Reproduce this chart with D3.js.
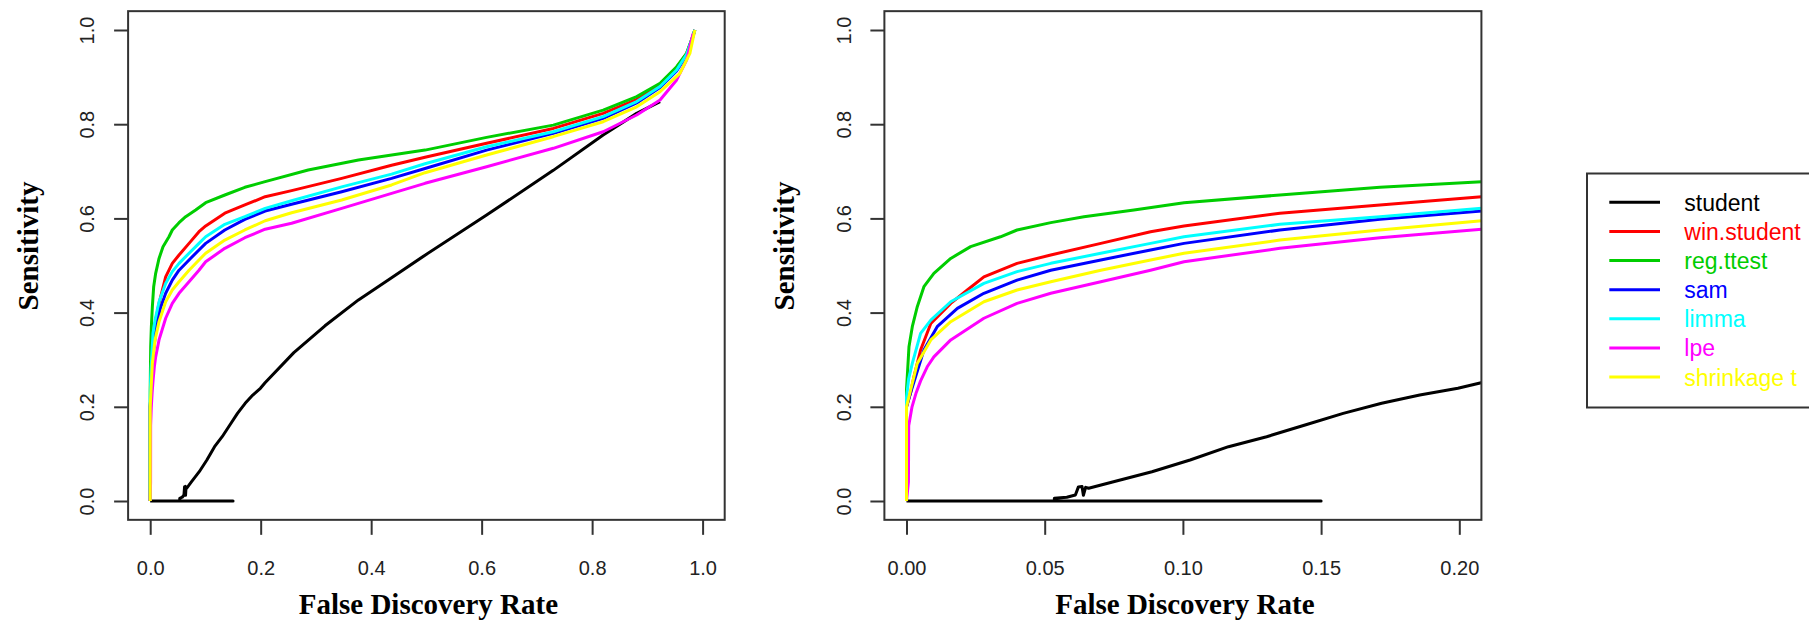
<!DOCTYPE html>
<html>
<head>
<meta charset="utf-8">
<script src="https://cdn.jsdelivr.net/npm/d3@7"></script>
<style>
  html, body { margin: 0; padding: 0; background: #fff; }
  svg { display: block; }
</style>
</head>
<body>
<script>
// ---------------- data ----------------
const methods = ["student", "win.student", "reg.ttest", "sam", "limma", "lpe", "shrinkage t"];
const methodColors = ["#000000", "#ff0000", "#00cd00", "#0000ff", "#00ffff", "#ff00ff", "#ffff00"];

const fdrTicksLeft = [0, 0.2, 0.4, 0.6, 0.8, 1.0];
const fdrTickLabelsLeft = ["0.0", "0.2", "0.4", "0.6", "0.8", "1.0"];
const fdrTicksRight = [0, 0.05, 0.10, 0.15, 0.20];
const fdrTickLabelsRight = ["0.00", "0.05", "0.10", "0.15", "0.20"];
const sensTicks = [0, 0.2, 0.4, 0.6, 0.8, 1.0];
const sensTickLabels = ["0.0", "0.2", "0.4", "0.6", "0.8", "1.0"];

// [FDR, sensitivity]
const student = [[0,0],[0.15,0],[0.0535,0],[0.0535,0.0057],[0.058,0.008],[0.0611,0.0127],[0.0622,0.03],[0.0635,0.031],
  [0.064,0.012],[0.0648,0.029],[0.0659,0.027],
  [0.0749,0.041],[0.0888,0.0622],[0.1026,0.087],[0.1165,0.1153],[0.1303,0.1365],[0.1442,0.1614],[0.158,0.186],
  [0.1719,0.2074],[0.1857,0.225],[0.1995,0.2393],[0.2079,0.251],[0.26,0.315],[0.3164,0.372],[0.377,0.427],
  [0.437,0.474],[0.4975,0.522],[0.609,0.607],[0.7297,0.702],[0.82,0.777],[0.8807,0.823],[0.923,0.848]];
const winStudent = [[0,0],[0,0.2],[0.0015,0.23],[0.0027,0.264],[0.0051,0.3206],[0.0088,0.377],[0.016,0.4197],
  [0.022,0.448],[0.028,0.476],[0.040,0.5046],[0.0522,0.5223],[0.0703,0.547],[0.0883,0.5718],[0.1004,0.584],
  [0.1351,0.611],[0.1713,0.6285],[0.2081,0.646],[0.256,0.659],[0.3467,0.685],[0.437,0.713],[0.4975,0.73],
  [0.609,0.7594],[0.7297,0.791],[0.82,0.823],[0.88,0.852],[0.923,0.884],[0.953,0.92],[0.971,0.95],[0.98,0.979],[0.986,1.0]];
const regTtest = [[0,0],[0,0.2357],[0.0009,0.3276],[0.0021,0.370],[0.0039,0.4125],[0.0063,0.455],[0.0099,0.4834],
  [0.016,0.515],[0.0232,0.540],[0.034,0.561],[0.040,0.5754],[0.0522,0.591],[0.0642,0.6036],[0.0823,0.6178],
  [0.1004,0.6334],[0.1351,0.6497],[0.1713,0.666],[0.2081,0.678],[0.286,0.7028],[0.377,0.724],[0.4975,0.745],
  [0.609,0.772],[0.7297,0.798],[0.82,0.83],[0.8807,0.8585],[0.923,0.887],[0.953,0.922],[0.971,0.9505],[0.98,0.979],[0.986,1.0]];
const sam = [[0,0],[0,0.2],[0.0015,0.23],[0.0033,0.264],[0.0063,0.3206],[0.0111,0.370],[0.0184,0.409],[0.028,0.441],
  [0.040,0.469],[0.0522,0.490],[0.0703,0.5117],[0.0883,0.533],[0.1004,0.547],[0.1351,0.5754],[0.1713,0.598],
  [0.2081,0.6157],[0.256,0.630],[0.3467,0.6567],[0.437,0.685],[0.4975,0.706],[0.609,0.745],[0.7297,0.7806],
  [0.82,0.8125],[0.8807,0.845],[0.923,0.878],[0.953,0.913],[0.971,0.946],[0.98,0.976],[0.986,1.0]];
const limma = [[0,0],[0,0.22],[0.0008,0.26],[0.0021,0.292],[0.0051,0.356],[0.0088,0.384],[0.016,0.423],[0.028,0.462],
  [0.040,0.487],[0.0522,0.5046],[0.0703,0.526],[0.0883,0.547],[0.1004,0.561],[0.1351,0.5874],[0.1713,0.6036],
  [0.2081,0.6214],[0.256,0.6375],[0.3467,0.667],[0.437,0.694],[0.4975,0.716],[0.609,0.752],[0.7297,0.784],
  [0.82,0.816],[0.8807,0.848],[0.923,0.88],[0.953,0.915],[0.971,0.948],[0.98,0.978],[0.986,1.0]];
const lpe = [[0,0],[0.0007,0.04],[0.0008,0.16],[0.002,0.2],[0.0035,0.23],[0.0051,0.255],[0.0075,0.285],[0.0099,0.306],
  [0.016,0.342],[0.028,0.388],[0.040,0.4197],[0.0522,0.441],[0.0703,0.4656],[0.0883,0.490],[0.1004,0.508],
  [0.1351,0.5365],[0.1713,0.559],[0.2081,0.577],[0.256,0.5896],[0.3467,0.6214],[0.437,0.653],[0.4975,0.6745],
  [0.609,0.7098],[0.7297,0.7488],[0.82,0.784],[0.8807,0.8195],[0.923,0.8514],[0.953,0.894],[0.971,0.936],[0.98,0.979],[0.983,0.993]];
const shrinkageT = [[0,0],[0,0.2],[0.0015,0.2357],[0.0039,0.292],[0.0088,0.342],[0.016,0.3807],[0.028,0.423],
  [0.040,0.448],[0.0522,0.4656],[0.0703,0.490],[0.0883,0.5117],[0.1004,0.526],[0.1351,0.554],[0.1713,0.5754],
  [0.2081,0.595],[0.256,0.612],[0.3467,0.639],[0.437,0.671],[0.4975,0.697],[0.609,0.7346],[0.7297,0.7735],
  [0.82,0.8053],[0.8807,0.837],[0.923,0.869],[0.959,0.908],[0.977,0.9505],[0.986,1.0]];

const seriesData = [student, winStudent, regTtest, sam, limma, lpe, shrinkageT];

// ---------------- drawing ----------------
const W = 1809, H = 622;
const svg = d3.select("body").append("svg").attr("width", W).attr("height", H);
svg.append("rect").attr("width", W).attr("height", H).attr("fill", "#fff");

const y = d3.scaleLinear().domain([0, 1]).range([501, 30]);

const panels = [
  { id: "L", x: d3.scaleLinear().domain([0, 1]).range([150.2, 702.6]), ticks: fdrTicksLeft, labels: fdrTickLabelsLeft, pad: 0.04 },
  { id: "R", x: d3.scaleLinear().domain([0, 0.2]).range([906.5, 1459.3]), ticks: fdrTicksRight, labels: fdrTickLabelsRight, pad: 0.008 }
];

const sansFont = "'Liberation Sans', Arial, Helvetica, sans-serif";
const serifFont = "'Liberation Serif', 'Times New Roman', serif";

panels.forEach(p => {
  const x = p.x;
  const d0 = x.domain();
  const x0 = x(d0[0] - p.pad), x1 = x(d0[1] + p.pad);
  const yTop = y(1.04), yBot = y(-0.04);

  const clipId = "clip" + p.id;
  svg.append("clipPath").attr("id", clipId)
    .append("rect").attr("x", x0).attr("y", yTop).attr("width", x1 - x0).attr("height", yBot - yTop);

  const line = d3.line().x(d => x(d[0])).y(d => y(d[1]));
  const g = svg.append("g").attr("clip-path", `url(#${clipId})`);
  seriesData.forEach((data, i) => {
    g.append("path")
      .datum(data)
      .attr("d", line)
      .attr("fill", "none")
      .attr("stroke", methodColors[i])
      .attr("stroke-width", 3)
      .attr("stroke-linejoin", "round");
  });

  // box
  svg.append("rect")
    .attr("x", x0).attr("y", yTop).attr("width", x1 - x0).attr("height", yBot - yTop)
    .attr("fill", "none").attr("stroke", "#333").attr("stroke-width", 2);

  // x axis
  const xa = svg.append("g").attr("transform", `translate(0,${yBot})`)
    .call(d3.axisBottom(x).tickValues(p.ticks).tickFormat((d, i) => p.labels[i]).tickSize(15));
  xa.select(".domain").remove();
  xa.selectAll(".tick line").attr("stroke", "#333").attr("stroke-width", 2);
  xa.selectAll(".tick text")
    .attr("y", 575 - yBot).attr("dy", 0)
    .attr("fill", "#222")
    .style("font-family", sansFont).style("font-size", "20px");

  // y axis
  const ya = svg.append("g").attr("transform", `translate(${x0},0)`)
    .call(d3.axisLeft(y).tickValues(sensTicks).tickFormat((d, i) => sensTickLabels[i]).tickSize(14));
  ya.select(".domain").remove();
  ya.selectAll(".tick line").attr("stroke", "#333").attr("stroke-width", 2);
  ya.selectAll(".tick text")
    .attr("x", 0).attr("y", 0).attr("dy", 0)
    .attr("transform", `translate(${-(x0 - (p.id === "L" ? 94 : 851))},0) rotate(-90)`)
    .attr("text-anchor", "middle")
    .attr("fill", "#222")
    .style("font-family", sansFont).style("font-size", "20px");

  // axis titles
  svg.append("text")
    .attr("x", (x0 + x1) / 2 + 2).attr("y", 614)
    .attr("text-anchor", "middle")
    .style("font-family", serifFont).style("font-weight", "bold").style("font-size", "29px")
    .attr("fill", "#000")
    .text("False Discovery Rate");
  svg.append("text")
    .attr("transform", `translate(${x0 - 90.5},246) rotate(-90)`)
    .attr("text-anchor", "middle")
    .style("font-family", serifFont).style("font-weight", "bold").style("font-size", "29px")
    .attr("fill", "#000")
    .text("Sensitivity");
});

// legend
const leg = svg.append("g");
leg.append("rect")
  .attr("x", 1587).attr("y", 173.5).attr("width", 260).attr("height", 234)
  .attr("fill", "#fff").attr("stroke", "#333").attr("stroke-width", 2);
const rowY = d3.scaleLinear().domain([0, methods.length - 1]).range([202.3, 377]);
methods.forEach((m, i) => {
  leg.append("line")
    .attr("x1", 1609.3).attr("x2", 1660).attr("y1", rowY(i)).attr("y2", rowY(i))
    .attr("stroke", methodColors[i]).attr("stroke-width", 3);
  leg.append("text")
    .attr("x", 1684.3).attr("y", rowY(i) + 8.5)
    .attr("fill", methodColors[i])
    .style("font-family", sansFont).style("font-size", "23px")
    .text(m);
});
</script>
</body>
</html>
